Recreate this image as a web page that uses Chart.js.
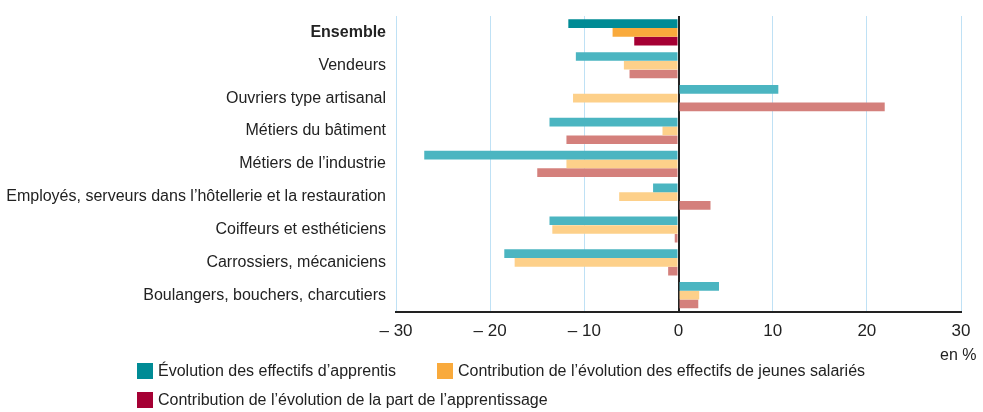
<!DOCTYPE html>
<html>
<head>
<meta charset="utf-8">
<script src="https://cdn.jsdelivr.net/npm/chart.js@4"></script>
<style>
  html,body{margin:0;padding:0;background:#fff;}
  #wrap{position:relative;width:983px;height:412px;}
  canvas{position:absolute;left:0;top:0;}
  .lg{position:absolute;font-family:"Liberation Sans Narrow","Arial Narrow",sans-serif;font-size:16px;color:#222;display:flex;align-items:center;white-space:nowrap;}
  .lg span.sw{display:inline-block;width:16px;height:16px;margin-right:5px;}
  #unit{position:absolute;left:940px;top:346px;font-family:"Liberation Sans Narrow","Arial Narrow",sans-serif;font-size:16px;color:#222;}
</style>
</head>
<body>
<div id="wrap">
<canvas id="c" width="983" height="412"></canvas>
<div id="unit">en %</div>
<div class="lg" style="left:137px;top:362px;"><span class="sw" style="background:#008B95"></span>Évolution des effectifs d’apprentis</div>
<div class="lg" style="left:437px;top:362px;"><span class="sw" style="background:#F9AA3C"></span>Contribution de l’évolution des effectifs de jeunes salariés</div>
<div class="lg" style="left:137px;top:391px;"><span class="sw" style="background:#A50034"></span>Contribution de l’évolution de la part de l’apprentissage</div>
</div>
<script>
const categories = ["Ensemble","Vendeurs","Ouvriers type artisanal","Métiers du bâtiment","Métiers de l’industrie","Employés, serveurs dans l’hôtellerie et la restauration","Coiffeurs et esthéticiens","Carrossiers, mécaniciens","Boulangers, bouchers, charcutiers"];
const seriesNames = ["Évolution des effectifs d’apprentis","Contribution de l’évolution des effectifs de jeunes salariés","Contribution de l’évolution de la part de l’apprentissage"];
const apprentis = [-11.7,-10.9,10.6,-13.7,-27.0,-2.7,-13.7,-18.5,4.3];
const jeunes    = [-7.0,-5.8,-11.2,-1.7,-11.9,-6.3,-13.4,-17.4,2.2];
const part      = [-4.7,-5.2,21.9,-11.9,-15.0,3.4,-0.4,-1.1,2.1];
const xTicks = [-30,-20,-10,0,10,20,30];

const FONT = '"Liberation Sans Narrow","Arial Narrow",sans-serif';
const dark = ['#008B95','#F9AA3C','#A50034'];
const light = ['#4BB5C1','#FDD08A','#D4807C'];
function colors(i){ return categories.map((c,k)=> k===0 ? dark[i] : light[i]); }

new Chart(document.getElementById('c'), {
  type:'bar',
  data:{
    labels:categories,
    datasets:[apprentis,jeunes,part].map((d,i)=>({
      label:seriesNames[i], data:d, backgroundColor:colors(i), borderWidth:0,
      barPercentage:0.99, categoryPercentage:0.8
    }))
  },
  options:{
    indexAxis:'y',
    responsive:false,
    animation:false,
    layout:{padding:{left:5,right:22,top:16,bottom:60}},
    plugins:{legend:{display:false},tooltip:{enabled:false}},
    scales:{
      x:{
        min:-30,max:30,
        afterBuildTicks:(ax)=>{ax.ticks = xTicks.map(v=>({value:v}));},
        ticks:{color:'#222',font:{family:FONT,size:17},padding:10,
          callback:(v)=> v<0 ? '– '+Math.abs(v) : String(v)},
        grid:{drawTicks:false,
          color:(ctx)=> ctx.tick && ctx.tick.value===0 ? '#222' : '#BFE1F5',
          lineWidth:(ctx)=> ctx.tick && ctx.tick.value===0 ? 2 : 1},
        border:{display:true,color:'#222',width:2}
      },
      y:{
        afterFit:(s)=>{ s.width = 391; s.paddingTop = 0; s.paddingBottom = 0; },
        grid:{display:false,drawTicks:false},
        border:{display:false},
        ticks:{color:'#222',padding:10,autoSkip:false,
          font:(ctx)=> ({family:FONT,size:16,weight: ctx.index===0 ? 'bold':'normal'})}
      }
    }
  }
});
</script>
</body>
</html>
